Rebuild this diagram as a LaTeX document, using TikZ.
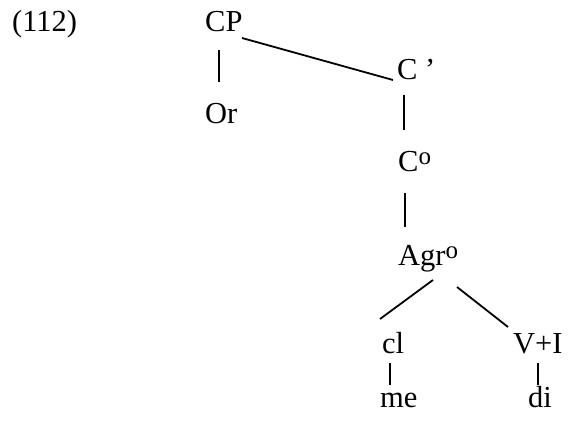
\documentclass[tikz,border=0pt]{standalone}
\usepackage{fontspec}
\setmainfont{Liberation Serif}
\newcommand{\supo}{\raisebox{7pt}{\fontsize{25}{25}\selectfont o}}
\begin{document}
\begin{tikzpicture}[x=1pt,y=-1pt,
  lbl/.style={inner sep=0pt,anchor=base west,font=\fontsize{30.5}{36}\selectfont},
  edge/.style={line width=1.8pt}]
\useasboundingbox (0,0) rectangle (572,438);
\node[lbl] (ex) at (12,32) {(112)};
\node[lbl] (CP) at (205,32) {CP};
\node[lbl] (Or) at (205,124) {Or};
\node[lbl] (C1) at (397,80) {C \char"27};
\node[lbl] (C0) at (398,172) {C\supo};
\node[lbl] (Agr) at (398,265) {Agr\supo};
\node[lbl] (cl) at (382,353) {cl};
\node[lbl] (VI) at (513,353) {V+I};
\node[lbl] (me) at (380,407) {me};
\node[lbl] (di) at (528,407) {di};
\draw[edge] ([xshift=14pt,yshift=-18pt]CP.base west) -- ([xshift=14pt,yshift=42pt]Or.base west);
\draw[edge] ([xshift=37pt,yshift=-6pt]CP.base west) -- ([xshift=-4pt]C1.base west);
\draw[edge] ([xshift=7pt,yshift=-15pt]C1.base west) -- ([xshift=6pt,yshift=42pt]C0.base west);
\draw[edge] ([xshift=7pt,yshift=-21pt]C0.base west) -- ([xshift=7pt,yshift=38pt]Agr.base west);
\draw[edge] ([xshift=35pt,yshift=-15pt]Agr.base west) -- ([xshift=-2pt,yshift=34pt]cl.base west);
\draw[edge] ([xshift=59pt,yshift=-22pt]Agr.base west) -- ([xshift=-5pt,yshift=26pt]VI.base west);
\draw[edge] ([xshift=8pt,yshift=-10pt]cl.base west) -- ([xshift=10pt,yshift=22pt]me.base west);
\draw[edge] ([xshift=25pt,yshift=-10pt]VI.base west) -- ([xshift=10pt,yshift=22pt]di.base west);
\end{tikzpicture}
\end{document}
